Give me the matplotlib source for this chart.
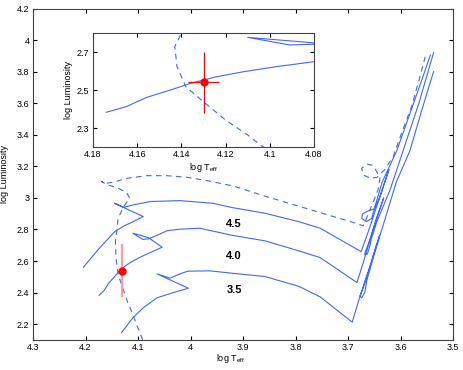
import numpy as np
import matplotlib
matplotlib.use('Agg')
import matplotlib.pyplot as plt

plt.rcParams['font.family'] = ['Liberation Sans', 'DejaVu Sans']
plt.rcParams['mathtext.fontset'] = 'custom'
plt.rcParams['mathtext.rm'] = 'Liberation Sans'

#=================================================================================================
# Evolutionary tracks (log Teff, log L)

# 3.5 Msun
t35 = [4.131, 4.110, 4.090, 4.064, 4.033, 4.004, 4.064, 4.039, 4.020, 4.005, 3.963, 3.921,
       3.858, 3.793, 3.753, 3.692, 3.676, 3.668, 3.655, 3.640, 3.648, 3.660, 3.666,
       3.672, 3.677, 3.674, 3.668, 3.664, 3.652, 3.630, 3.608, 3.582, 3.560, 3.537]
l35 = [2.148, 2.240, 2.304, 2.367, 2.400, 2.428, 2.519, 2.492, 2.519, 2.536, 2.538, 2.523,
       2.502, 2.439, 2.373, 2.213, 2.390, 2.470, 2.600, 2.760, 2.680, 2.540, 2.480,
       2.420, 2.380, 2.367, 2.400, 2.480, 2.620, 2.860, 3.100, 3.300, 3.550, 3.800]

# 4.0 Msun
t40 = [4.174, 4.165, 4.156, 4.145, 4.135, 4.124, 4.112, 4.097, 4.080, 4.054, 4.080, 4.110,
       4.091, 4.080, 4.064, 4.045, 4.020, 3.982, 3.922, 3.858, 3.794, 3.753, 3.683,
       3.670, 3.654, 3.632, 3.645, 3.656, 3.662, 3.667, 3.668, 3.663, 3.658, 3.656,
       3.645, 3.620, 3.595, 3.565, 3.537]
l40 = [2.383, 2.412, 2.460, 2.500, 2.538, 2.570, 2.596, 2.623, 2.649, 2.688, 2.748, 2.777,
       2.737, 2.741, 2.762, 2.792, 2.802, 2.808, 2.764, 2.728, 2.665, 2.622, 2.464,
       2.600, 2.780, 3.000, 2.880, 2.760, 2.700, 2.660, 2.640, 2.645, 2.700, 2.735,
       2.850, 3.050, 3.300, 3.600, 3.920]

# 4.5 Msun
t45 = [4.204, 4.172, 4.144, 4.128, 4.109, 4.090, 4.145, 4.127, 4.109, 4.077, 4.020, 3.957,
       3.921, 3.858, 3.794, 3.753, 3.675, 3.662, 3.645, 3.622, 3.640, 3.650, 3.660,
       3.672, 3.674, 3.665, 3.655, 3.650, 3.635, 3.607, 3.575, 3.543]
l45 = [2.561, 2.688, 2.787, 2.820, 2.850, 2.882, 2.966, 2.941, 2.956, 2.977, 2.983, 2.966,
       2.939, 2.903, 2.850, 2.808, 2.660, 2.780, 2.950, 3.180, 3.000, 2.930, 2.920,
       2.900, 2.870, 2.850, 2.870, 2.930, 3.100, 3.300, 3.600, 3.905]

# dashed track
td = [4.091, 4.103, 4.110, 4.120, 4.130, 4.138, 4.142, 4.143, 4.140, 4.138, 4.128, 4.116,
      4.122, 4.140, 4.160, 4.170, 4.162, 4.146, 4.122, 4.083, 4.045, 4.007, 3.969, 3.918,
      3.855, 3.791, 3.728, 3.690, 3.671, 3.658, 3.643, 3.639, 3.645, 3.652, 3.664, 3.674,
      3.671, 3.658, 3.645, 3.630, 3.614, 3.598, 3.579, 3.563, 3.553]
ld = [2.100, 2.200, 2.263, 2.342, 2.438, 2.517, 2.623, 2.728, 2.800, 2.870, 2.940, 3.000,
      3.035, 3.065, 3.085, 3.105, 3.092, 3.100, 3.124, 3.141, 3.141, 3.131, 3.110, 3.075,
      3.008, 2.945, 2.882, 2.845, 2.823, 2.925, 3.050, 3.127, 3.165, 3.205, 3.215, 3.188,
      3.146, 3.125, 3.130, 3.180, 3.261, 3.410, 3.578, 3.768, 3.894]

# star with error bars
star_t, star_l = 4.130, 2.540
err_t, err_l = 0.007, 0.16

mass_labels = ['4.5', '4.0', '3.5']
label_t = [3.917, 3.917, 3.917]
label_l = [2.832, 2.633, 2.418]

#=================================================================================================
blue = (0.25, 0.40, 1.0)
dash = (0, (5, 4))

fig = plt.figure(figsize=(4.63, 3.70), dpi=100)
ax = fig.add_axes([0.0713, 0.0811, 0.9071, 0.8959])

for t, l in [(t35, l35), (t40, l40), (t45, l45)]:
    ax.plot(t, l, color=blue, lw=0.8)
ax.plot(td, ld, color=blue, lw=0.8, ls=dash)
ax.plot([star_t, star_t], [star_l - err_l, star_l + err_l], color='#ff9a9a', lw=1.6)
ax.plot(star_t, star_l, 'o', color='red', ms=5)

for s, t, l in zip(mass_labels, label_t, label_l):
    ax.text(t, l, s, fontsize=8, fontweight='bold', ha='center', va='center')

ax.set_xlim(4.3, 3.5)
ax.set_ylim(2.1, 4.2)
xt = np.arange(4.3, 3.49, -0.1)
ax.set_xticks(xt)
ax.set_xticklabels(['%g' % round(v, 1) for v in xt])
yt = np.arange(2.2, 4.21, 0.2)
ax.set_yticks(yt)
ax.set_yticklabels(['%g' % round(v, 1) for v in yt])
ax.tick_params(direction='in', top=True, right=True, length=3, labelsize=6.5, pad=2.5)
ax.set_xlabel(r'log T$_{\rm eff}$', fontsize=6.5, va='top')
ax.xaxis.set_label_coords((231 - 33) / 420, -0.037)
ax.set_ylabel('log Luminosity', fontsize=6.5, va='bottom')
ax.yaxis.set_label_coords(-0.058, 0.5)
for s in ax.spines.values():
    s.set_color('#444444')

#========================================= inset ================================================
ins = fig.add_axes([0.2009, 0.6027, 0.4773, 0.3081])
ins.plot(t40, l40, color=blue, lw=0.8)
ins.plot(td, ld, color=blue, lw=0.8, ls=dash)
ins.errorbar(star_t, star_l, xerr=err_t, yerr=err_l, fmt='o', color='red', ms=5, lw=0.9)
ins.set_xlim(4.18, 4.08)
ins.set_ylim(2.2, 2.8)
xi = [4.18, 4.16, 4.14, 4.12, 4.10, 4.08]
ins.set_xticks(xi)
ins.set_xticklabels(['%g' % v for v in xi])
yi = [2.3, 2.5, 2.7]
ins.set_yticks(yi)
ins.set_yticklabels(['%g' % v for v in yi])
ins.tick_params(direction='in', top=True, right=True, length=3, labelsize=6.5, pad=2.5)
ins.set_xlabel(r'log T$_{\rm eff}$', fontsize=6.5, labelpad=1)
ins.set_ylabel('log Luminosity', fontsize=6.5, labelpad=3)
for s in ins.spines.values():
    s.set_color('#444444')

fig.savefig('out.png', dpi=100)
